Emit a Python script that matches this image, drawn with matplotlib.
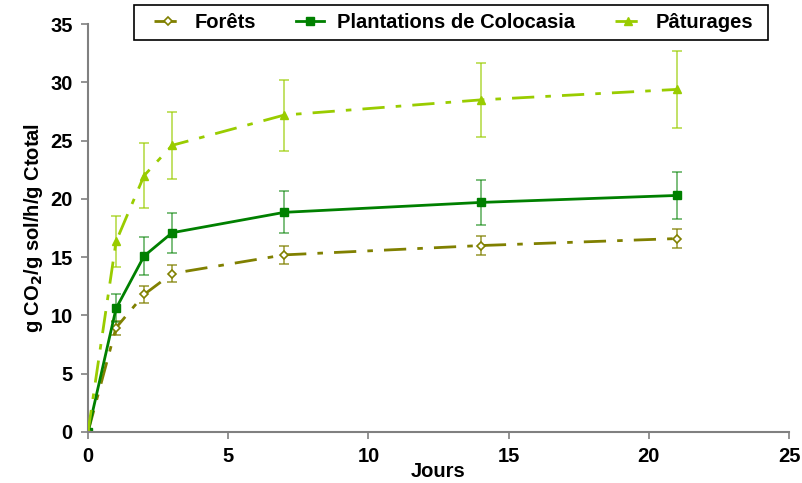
import matplotlib
matplotlib.use("Agg")
from matplotlib import pyplot as plt
from matplotlib.patches import Rectangle

plt.rcParams['font.family'] = ['Liberation Sans', 'DejaVu Sans']
plt.rcParams['font.weight'] = 'bold'

jours = [0, 1, 2, 3, 7, 14, 21]

forets = [0, 8.95, 11.8, 13.6, 15.2, 16.0, 16.6]
forets_err = [0, 0.6, 0.7, 0.75, 0.8, 0.8, 0.8]

plantations = [0, 10.6, 15.1, 17.1, 18.85, 19.7, 20.3]
plantations_err = [0, 1.2, 1.6, 1.7, 1.8, 1.9, 2.0]

paturages = [0, 16.35, 22.0, 24.6, 27.2, 28.5, 29.4]
paturages_err = [0, 2.2, 2.8, 2.85, 3.05, 3.2, 3.3]

fig = plt.figure(figsize=(8.03, 4.83), dpi=100)
ax = fig.add_axes([0.1096, 0.1056, 0.873, 0.8444])

c_for = '#808000'
c_pla = '#008000'
c_pat = '#99cc00'

ax.errorbar(jours, forets, yerr=forets_err, fmt='none', ecolor=c_for,
            elinewidth=1.2, capsize=3.5, capthick=1.2, alpha=0.75)
ax.errorbar(jours, plantations, yerr=plantations_err, fmt='none', ecolor=c_pla,
            elinewidth=1.2, capsize=3.5, capthick=1.2, alpha=0.6)
ax.errorbar(jours, paturages, yerr=paturages_err, fmt='none', ecolor=c_pat,
            elinewidth=1.2, capsize=3.5, capthick=1.2, alpha=0.7)

ax.plot(jours, forets, color=c_for, lw=2, dashes=(8, 4, 2, 4),
        marker='D', ms=4.5, mfc='white', mec=c_for, mew=1.2, label='Forêts')
ax.plot(jours, plantations, color=c_pla, lw=2, marker='s', ms=6,
        label='Plantations de Colocasia')
ax.plot(jours, paturages, color=c_pat, lw=2, dashes=(8, 4, 2, 4),
        marker='^', ms=6, label='Pâturages')

ax.set_xlim(0, 25)
ax.set_ylim(0, 35)
ax.set_xticks(range(0, 26, 5))
ax.set_yticks(range(0, 36, 5))

for s in ['top', 'right']:
    ax.spines[s].set_visible(False)
for s in ['left', 'bottom']:
    ax.spines[s].set_color('#808080')
    ax.spines[s].set_linewidth(1.5)
ax.spines['left'].set_zorder(0)
ax.tick_params(direction='out', length=5, width=1.2, color='#808080',
               labelsize=14.5, pad=6)
for lab in ax.get_xticklabels() + ax.get_yticklabels():
    lab.set_fontweight('bold')

ax.set_xlabel('Jours', fontsize=14.5, fontweight='bold', labelpad=-3)
ax.set_ylabel('g CO$_\\mathbf{2}$/g sol/h/g Ctotal', fontsize=14.5,
              fontweight='bold', labelpad=4)

# legend box drawn separately so the entries keep their own spacing
fig.add_artist(Rectangle((134 / 803, 1 - 40 / 483), 634 / 803, 35 / 483,
                         transform=fig.transFigure, fill=False,
                         edgecolor='black', lw=1.2))
leg = fig.legend(loc='center', bbox_to_anchor=(0.5648, 0.953),
                 ncol=3, frameon=False, fontsize=14.5, handlelength=1.35,
                 handletextpad=0.65, columnspacing=2.0, borderpad=0)
for t in leg.get_texts():
    t.set_fontweight('bold')

fig.savefig('out.png', dpi=100, facecolor='white')
